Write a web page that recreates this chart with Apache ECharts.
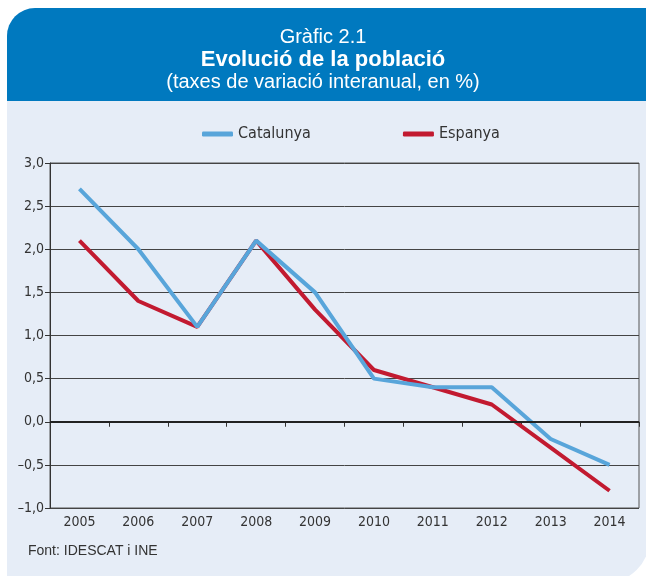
<!DOCTYPE html>
<html>
<head>
<meta charset="utf-8">
<script src="https://cdn.jsdelivr.net/npm/echarts@6/dist/echarts.min.js"></script>
<style>
  html, body { margin: 0; padding: 0; background: #fff; }
  #main { width: 646px; height: 576px; }
</style>
</head>
<body>
<div id="main"></div>
<script>
var years = ['2005', '2006', '2007', '2008', '2009', '2010', '2011', '2012', '2013', '2014'];
var catalunya = [2.7, 2.0, 1.1, 2.1, 1.5, 0.5, 0.4, 0.4, -0.2, -0.5];
var espanya = [2.1, 1.4, 1.1, 2.1, 1.3, 0.6, 0.4, 0.2, -0.3, -0.8];

var narrow = '"DejaVu Sans Condensed", "Liberation Sans", sans-serif';
var sans = '"Liberation Sans", Arial, sans-serif';

var myChart = echarts.init(document.getElementById('main'));

// number with comma and en dash, as in the original
function fmt(v) {
    return v.toFixed(1).replace('.', ',').replace('-', '\u2013');
}

var option = {
    backgroundColor: '#fff',
    animation: false,
    graphic: [
        // light panel
        {
            type: 'rect', z: -10, silent: true,
            shape: { x: 7, y: 8, width: 643, height: 575, r: [28, 0, 45, 0] },
            style: { fill: '#e6edf7' }
        },
        // blue header
        {
            type: 'rect', z: -9, silent: true,
            shape: { x: 7, y: 8, width: 660, height: 93, r: [28, 0, 0, 0] },
            style: { fill: '#0079bf' }
        },
        {
            type: 'text', left: 'center', top: 27,
            style: { text: 'Gràfic 2.1', fill: '#fff', font: '20px ' + sans }
        },
        {
            type: 'text', left: 'center', top: 49,
            style: { text: 'Evolució de la població', fill: '#fff', font: 'bold 22px ' + sans }
        },
        {
            type: 'text', left: 'center', top: 72,
            style: { text: '(taxes de variació interanual, en %)', fill: '#fff', font: '20px ' + sans }
        },
        {
            type: 'text', left: 28, top: 544,
            style: { text: 'Font: IDESCAT i INE', fill: '#333', font: '14px ' + sans }
        }
    ],
    legend: {
        data: ['Catalunya', 'Espanya'],
        left: 197,
        top: 121,
        icon: 'roundRect',
        itemWidth: 31,
        itemHeight: 5,
        itemGap: 92,
        textStyle: { fontFamily: narrow, fontSize: 16, color: '#333' }
    },
    grid: {
        left: 50,
        right: 7,
        top: 163,
        bottom: 68,
        show: true,
        borderColor: '#555',
        borderWidth: 1,
        containLabel: false
    },
    xAxis: {
        type: 'category',
        data: years,
        boundaryGap: true,
        axisLine: { lineStyle: { color: '#333', width: 1 } },
        axisTick: { show: true, interval: 0, length: 5, lineStyle: { color: '#333' } },
        axisLabel: { color: '#333', fontFamily: narrow, fontSize: 14, margin: 7 }
    },
    yAxis: {
        type: 'value',
        min: -1,
        max: 3,
        interval: 0.5,
        axisLine: { show: true, onZero: false, lineStyle: { color: '#333' } },
        axisTick: { show: true, length: 5, lineStyle: { color: '#333' } },
        axisLabel: {
            color: '#333', fontFamily: narrow, fontSize: 14, margin: 6,
            formatter: fmt
        },
        splitLine: { lineStyle: { color: '#444', width: 1 } }
    },
    series: [
        {
            name: 'Espanya',
            type: 'line',
            data: espanya,
            showSymbol: false,
            symbol: 'none',
            lineStyle: { color: '#c21a30', width: 4 },
            itemStyle: { color: '#c21a30' },
            markLine: {
                silent: true,
                symbol: 'none',
                label: { show: false },
                lineStyle: { color: '#222', width: 2, type: 'solid' },
                data: [{ yAxis: 0 }]
            },
            z: 3
        },
        {
            name: 'Catalunya',
            type: 'line',
            data: catalunya,
            showSymbol: false,
            symbol: 'none',
            lineStyle: { color: '#58a5da', width: 4 },
            itemStyle: { color: '#58a5da' },
            z: 4
        }
    ]
};

myChart.setOption(option);
</script>
</body>
</html>
